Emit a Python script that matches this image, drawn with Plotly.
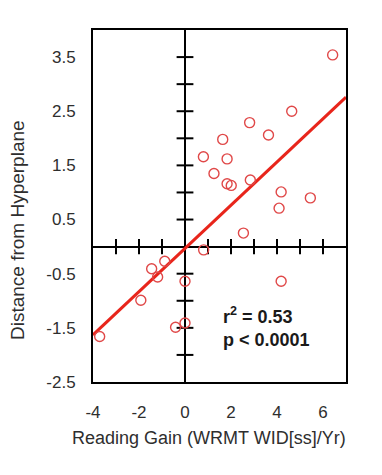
import plotly.graph_objects as go

# Data
gain = [6.42, 4.64, 2.81, 3.63, 1.64, 0.80, 1.83, 1.26, 1.83, 2.01, 2.84, 4.18, 5.45, 4.09, 2.54,
        0.81, -0.88, -1.45, -1.19, 0.0, 4.18, -1.92, 0.0, -0.41, -3.71]
distance = [3.54, 2.50, 2.29, 2.06, 1.98, 1.66, 1.62, 1.35, 1.16, 1.13, 1.23, 1.01, 0.90, 0.71, 0.25,
            -0.06, -0.27, -0.41, -0.56, -0.64, -0.64, -0.99, -1.41, -1.49, -1.66]
fit_x = [-4, 7]
fit_y = [-1.63, 2.76]
x_minor = [-3, -2, -1, 1, 2, 3, 4, 5, 6]
y_minor = [-2, -1.5, -1, -0.5, 0.5, 1, 1.5, 2, 2.5, 3, 3.5]
x_ticks = [-4, -2, 0, 2, 4, 6]
x_ticktext = ["-4", "-2", "0", "2", "4", "6"]
y_ticks = [-2.5, -1.5, -0.5, 0.5, 1.5, 2.5, 3.5]
y_ticktext = ["-2.5", "-1.5", "-0.5", "0.5", "1.5", "2.5", "3.5"]
stats_text = "r<sup>2</sup> = 0.53<br>p < 0.0001"
x_title = "Reading Gain (WRMT WID[ss]/Yr)"
y_title = "Distance from Hyperplane"

RED = "#e8251b"
PT = "#e04848"
FONT = "Liberation Sans, Arial"
TXT = "#2e2e2e"

fig = go.Figure()
# central axis tick marks
fig.add_trace(go.Scatter(x=x_minor, y=[0] * len(x_minor), mode="markers",
                         marker=dict(symbol="line-ns", size=11, line=dict(width=2, color="black")),
                         hoverinfo="skip", showlegend=False))
fig.add_trace(go.Scatter(x=[0] * len(y_minor), y=y_minor, mode="markers",
                         marker=dict(symbol="line-ew", size=12, line=dict(width=2, color="black")),
                         hoverinfo="skip", showlegend=False))
# regression line
fig.add_trace(go.Scatter(x=fit_x, y=fit_y, mode="lines",
                         line=dict(color=RED, width=3), showlegend=False))
# data points
fig.add_trace(go.Scatter(x=gain, y=distance, mode="markers",
                         marker=dict(symbol="circle-open", size=10, color=PT,
                                     line=dict(width=1.4, color=PT)),
                         showlegend=False))

fig.add_annotation(x=1.55, y=-1.48, xref="x", yref="y", text="<b>" + stats_text + "</b>",
                   showarrow=False, xanchor="left", yanchor="middle", align="left",
                   font=dict(family=FONT, size=18, color="#1a1a1a"))
fig.add_annotation(x=0.4585, y=-0.159, xref="paper", yref="paper", text=x_title,
                   showarrow=False, xanchor="center", yanchor="middle",
                   font=dict(family=FONT, size=18, color=TXT))
fig.add_annotation(x=-0.296, y=0.432, xref="paper", yref="paper", text=y_title, textangle=-90,
                   showarrow=False, xanchor="center", yanchor="middle",
                   font=dict(family=FONT, size=19, color=TXT))

fig.update_layout(
    width=374, height=467,
    margin=dict(l=85, r=36, t=22, b=93),
    plot_bgcolor="white", paper_bgcolor="white",
    font=dict(family=FONT, color=TXT),
    xaxis=dict(range=[-4, 7], tickvals=x_ticks, ticktext=x_ticktext, ticks="", showgrid=False,
               zeroline=True, zerolinecolor="black", zerolinewidth=2,
               showline=True, linecolor="black", linewidth=2, mirror=True,
               ticklabelstandoff=14,
               tickfont=dict(size=17, color=TXT)),
    yaxis=dict(range=[-2.5, 4], tickvals=y_ticks, ticktext=y_ticktext, ticks="",
               showgrid=False, zeroline=True, zerolinecolor="black", zerolinewidth=2,
               showline=True, linecolor="black", linewidth=2, mirror=True,
               ticklabelstandoff=12,
               tickfont=dict(size=17, color=TXT)),
)

fig.write_html("out.html")
